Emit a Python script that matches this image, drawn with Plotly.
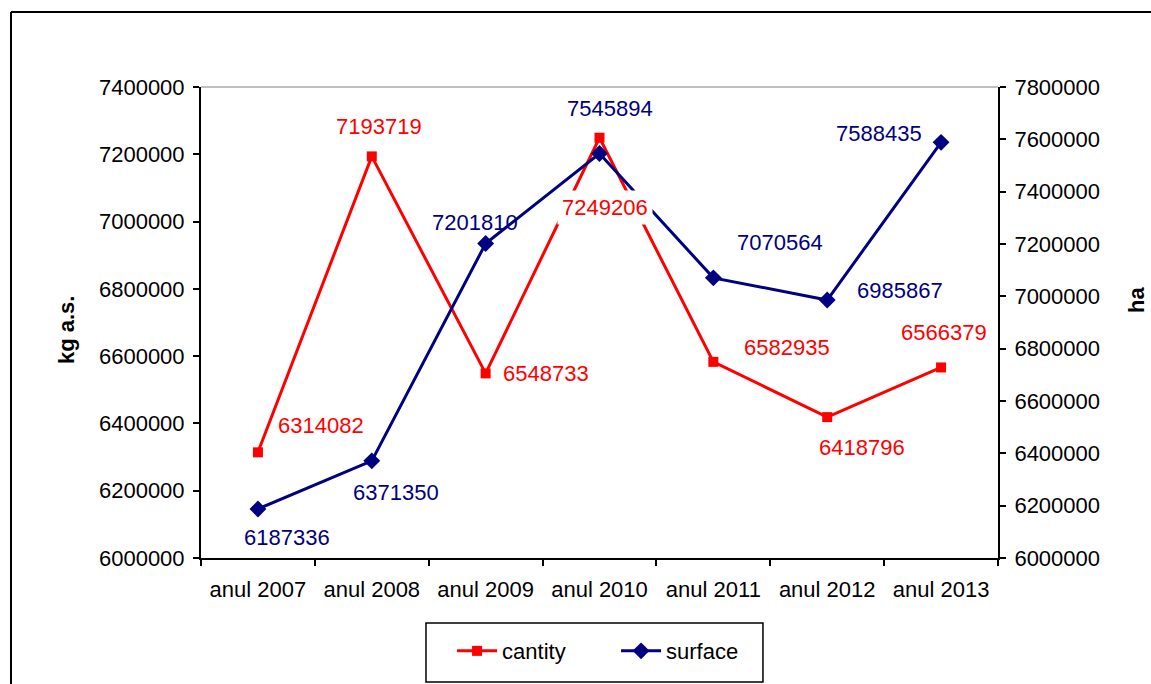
import plotly.graph_objects as go

# ---------------- data ----------------
categories = ["anul 2007", "anul 2008", "anul 2009", "anul 2010",
              "anul 2011", "anul 2012", "anul 2013"]
cantity = [6314082, 7193719, 6548733, 7249206, 6582935, 6418796, 6566379]
surface = [6187336, 6371350, 7201810, 7545894, 7070564, 6985867, 7588435]

left_range = [6000000, 7400000]
right_range = [6000000, 7800000]
tick_step = 200000

# label offsets in pixels (dx, dy) relative to each point
cantity_label_offsets = [(63, 27), (7, 30), (60, 0), (5, -70), (74, 14), (35, -30), (3, 35)]
surface_label_offsets = [(29, -29), (24, -32), (-11, 21), (10, 45), (67, 35), (73, 10), (-62, 9)]
cantity_label_bg = [None, None, None, "white", None, None, None]

RED = "#FF0000"
NAVY = "#000080"
FONT = "Liberation Sans, Arial, sans-serif"
FS = 22

fig = go.Figure()
fig.add_trace(go.Scatter(
    x=categories, y=cantity, name="cantity", mode="lines+markers",
    line=dict(color=RED, width=3),
    marker=dict(symbol="square", size=10, color=RED),
    yaxis="y"))
fig.add_trace(go.Scatter(
    x=categories, y=surface, name="surface", mode="lines+markers",
    line=dict(color=NAVY, width=3),
    marker=dict(symbol="diamond", size=13, color=NAVY),
    yaxis="y2"))

annotations = []
for c, v, (dx, dy), bg in zip(categories, cantity, cantity_label_offsets, cantity_label_bg):
    annotations.append(dict(x=c, y=v, xref="x", yref="y", text=str(v), showarrow=False,
                            xshift=dx, yshift=dy, font=dict(color=RED, size=FS, family=FONT),
                            bgcolor=bg if bg else "rgba(0,0,0,0)", borderpad=4))
for c, v, (dx, dy) in zip(categories, surface, surface_label_offsets):
    annotations.append(dict(x=c, y=v, xref="x", yref="y2", text=str(v), showarrow=False,
                            xshift=dx, yshift=dy, font=dict(color=NAVY, size=FS, family=FONT)))

# axis titles
annotations.append(dict(x=-0.1694, y=0.484, xref="paper", yref="paper", text="<b>kg a.s.</b>",
                        textangle=-90, showarrow=False, xanchor="center", yanchor="middle",
                        font=dict(size=FS, family=FONT, color="black")))
annotations.append(dict(x=1.1744, y=0.548, xref="paper", yref="paper", text="<b>ha</b>",
                        textangle=-90, showarrow=False, xanchor="center", yanchor="middle",
                        font=dict(size=FS, family=FONT, color="black")))

n = len(categories)
boundaries = [i - 0.5 for i in range(n + 1)]
xr = [-0.5, n - 0.5]

axis_common = dict(showgrid=False, zeroline=False)

fig.update_layout(
    width=1151, height=684,
    margin=dict(l=201, r=153, t=87, b=126),
    paper_bgcolor="white", plot_bgcolor="white",
    font=dict(family=FONT, size=FS, color="black"),
    showlegend=True,
    legend=dict(orientation="h", x=0.315, xanchor="left", y=-0.153, yanchor="top",
                borderwidth=0, bgcolor="rgba(0,0,0,0)",
                font=dict(size=FS, family=FONT, color="black"),
                entrywidth=109, itemwidth=40),
    xaxis=dict(type="category", categoryorder="array", categoryarray=categories,
               range=xr, showline=True, linecolor="black", linewidth=2,
               ticks="outside", tickson="boundaries", ticklen=6, tickwidth=1.5,
               tickcolor="black", ticklabelstandoff=11, **axis_common),
    xaxis2=dict(overlaying="x", anchor="y", side="bottom", range=xr,
                tickmode="array", tickvals=boundaries, ticks="inside", ticklen=6,
                tickwidth=1.5, tickcolor="black", showticklabels=False,
                showline=False, **axis_common),
    yaxis=dict(range=left_range, dtick=tick_step, tick0=left_range[0],
               showline=True, linecolor="black", linewidth=2,
               ticks="outside", ticklen=6, tickwidth=1.5, tickcolor="black",
               tickformat="d", ticklabelstandoff=4, **axis_common),
    yaxis2=dict(range=right_range, dtick=tick_step, tick0=right_range[0],
                overlaying="y", side="right", anchor="x",
                showline=True, linecolor="black", linewidth=2,
                ticks="outside", ticklen=6, tickwidth=1.5, tickcolor="black",
                tickformat="d", ticklabelstandoff=4, **axis_common),
    yaxis3=dict(range=left_range, dtick=tick_step, tick0=left_range[0],
                overlaying="y", side="left", anchor="x",
                ticks="inside", ticklen=6, tickwidth=1.5, tickcolor="black",
                showticklabels=False, showline=False, **axis_common),
    yaxis4=dict(range=right_range, dtick=tick_step, tick0=right_range[0],
                overlaying="y", side="right", anchor="x",
                ticks="inside", ticklen=6, tickwidth=1.5, tickcolor="black",
                showticklabels=False, showline=False, **axis_common),
    annotations=annotations,
    shapes=[
        # plot-area top border (grey)
        dict(type="line", xref="paper", yref="paper", x0=0, x1=1, y0=1, y1=1,
             line=dict(color="#808080", width=1), layer="below"),
        # outer chart frame (top and left edges visible)
        dict(type="line", xref="paper", yref="paper", x0=-0.2384, x1=1.3, y0=1.1592, y1=1.1592,
             line=dict(color="black", width=2)),
        dict(type="line", xref="paper", yref="paper", x0=-0.2384, x1=-0.2384, y0=1.1592, y1=-0.5,
             line=dict(color="black", width=2)),
        # legend frame
        dict(type="rect", xref="paper", yref="paper", x0=0.2823, x1=0.7051, y0=-0.2633, y1=-0.138,
             line=dict(color="black", width=1.5), fillcolor="rgba(0,0,0,0)"),
    ],
)

fig.write_html(
    "out.html",
    config={"displayModeBar": False},
    post_script="document.body.style.margin='0';"
                "document.documentElement.style.overflow='hidden';"
                "document.body.style.overflow='hidden';",
)
